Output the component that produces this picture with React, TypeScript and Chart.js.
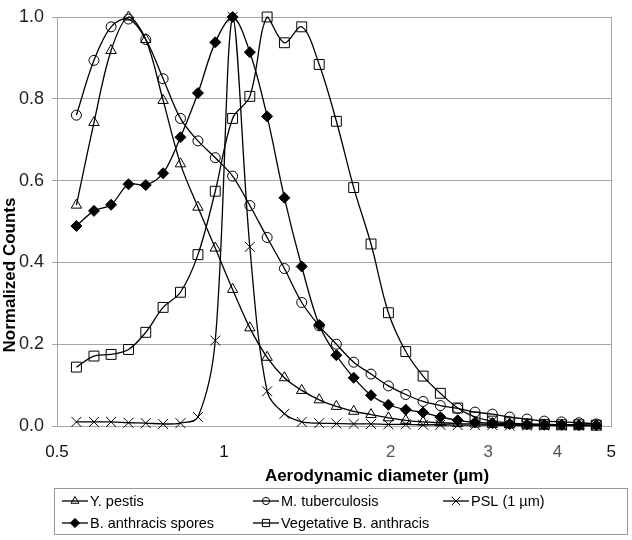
import React, { useEffect, useRef } from "react";
import { Chart, registerables } from "chart.js";

Chart.register(...registerables);

// Aerodynamic diameter (µm) of each measurement channel
const diameters = [
  0.542, 0.583, 0.626, 0.673, 0.723, 0.777, 0.835, 0.898, 0.965, 1.037, 1.114,
  1.197, 1.286, 1.382, 1.486, 1.596, 1.715, 1.843, 1.981, 2.129, 2.288, 2.458,
  2.642, 2.839, 3.051, 3.278, 3.523, 3.786, 4.068, 4.371, 4.698,
];

const yPestis = [
  0.54, 0.742, 0.918, 1.0, 0.945, 0.796, 0.641, 0.535, 0.435, 0.334, 0.24,
  0.168, 0.118, 0.087, 0.064, 0.048, 0.036, 0.028, 0.02, 0.014, 0.01, 0.008,
  0.006, 0.005, 0.004, 0.003, 0.003, 0.002, 0.002, 0.001, 0.001,
];

const mTuberculosis = [
  0.76, 0.894, 0.976, 0.995, 0.945, 0.849, 0.752, 0.697, 0.656, 0.611, 0.539,
  0.461, 0.385, 0.302, 0.245, 0.2, 0.156, 0.127, 0.098, 0.077, 0.06, 0.05,
  0.043, 0.034, 0.029, 0.022, 0.017, 0.012, 0.01, 0.008, 0.005,
];

const psl = [
  0.01, 0.01, 0.01, 0.008, 0.007, 0.005, 0.007, 0.022, 0.209, 1.0, 0.438,
  0.085, 0.03, 0.01, 0.007, 0.006, 0.005, 0.005, 0.004, 0.004, 0.003, 0.003,
  0.002, 0.002, 0.002, 0.001, 0.001, 0.001, 0.001, 0.001, 0.001,
];

const bAnthracisSpores = [
  0.489, 0.526, 0.541, 0.591, 0.589, 0.618, 0.706, 0.814, 0.938, 1.0, 0.914,
  0.757, 0.558, 0.39, 0.247, 0.173, 0.118, 0.075, 0.052, 0.04, 0.033, 0.022,
  0.014, 0.009, 0.007, 0.005, 0.004, 0.003, 0.003, 0.002, 0.002,
];

const vegetativeBAnthracis = [
  0.144, 0.171, 0.175, 0.187, 0.229, 0.29, 0.327, 0.419, 0.574, 0.752, 0.806,
  1.0, 0.937, 0.976, 0.884, 0.745, 0.583, 0.445, 0.277, 0.182, 0.122, 0.08,
  0.044, 0.022, 0.012, 0.008, 0.005, 0.004, 0.003, 0.003, 0.002,
];

const seriesNames = [
  "Y. pestis",
  "M. tuberculosis",
  "PSL (1 µm)",
  "B. anthracis spores",
  "Vegetative B. anthracis",
];

const xTickValues = [0.5, 1, 2, 3, 4, 5];
const xTickLabels = ["0.5", "1", "2", "3", "4", "5"];
const xTitle = "Aerodynamic diameter (µm)";
const yTitle = "Normalized Counts";

const FONT = "'Liberation Sans', Arial, Helvetica, sans-serif";
const GRID = "#a6a6a6";

type Style = "triangle" | "circle" | "crossRot" | "rectRot" | "rect";

const seriesValues = [yPestis, mTuberculosis, psl, bAnthracisSpores, vegetativeBAnthracis];
const seriesStyles: Style[] = ["triangle", "circle", "crossRot", "rectRot", "rect"];
const seriesRadius = [6, 5, 7, 5.5, 7];
const seriesFilled = [false, false, false, true, false];
// legend grid placement [column, row]
const legendSlots = [
  [0, 0],
  [1, 0],
  [2, 0],
  [0, 1],
  [1, 1],
];
const legendRadius = [4.5, 3.6, 4.2, 4.6, 3.6];

function drawMarker(
  ctx: CanvasRenderingContext2D,
  style: Style,
  x: number,
  y: number,
  r: number,
  filled: boolean
) {
  ctx.beginPath();
  switch (style) {
    case "circle":
      ctx.arc(x, y, r, 0, Math.PI * 2);
      break;
    case "triangle": {
      for (let k = 0; k < 3; k++) {
        const a = (k * 2 * Math.PI) / 3;
        const px = x + Math.sin(a) * r;
        const py = y - Math.cos(a) * r;
        if (k === 0) ctx.moveTo(px, py);
        else ctx.lineTo(px, py);
      }
      ctx.closePath();
      break;
    }
    case "rect":
      ctx.rect(x - r, y - r, 2 * r, 2 * r);
      break;
    case "rectRot":
      ctx.moveTo(x - r, y);
      ctx.lineTo(x, y - r);
      ctx.lineTo(x + r, y);
      ctx.lineTo(x, y + r);
      ctx.closePath();
      break;
    case "crossRot":
      ctx.moveTo(x - r, y - r);
      ctx.lineTo(x + r, y + r);
      ctx.moveTo(x - r, y + r);
      ctx.lineTo(x + r, y - r);
      break;
  }
  if (filled) {
    ctx.fillStyle = "#000";
    ctx.fill();
  }
  ctx.stroke();
}

const decorPlugin = {
  id: "decor",
  afterDraw(chart: any) {
    const ctx: CanvasRenderingContext2D = chart.ctx;
    const area = chart.chartArea;
    ctx.save();
    // right border of plot area
    ctx.strokeStyle = GRID;
    ctx.lineWidth = 1;
    ctx.beginPath();
    ctx.moveTo(Math.round(area.right) + 0.5, area.top);
    ctx.lineTo(Math.round(area.right) + 0.5, area.bottom);
    ctx.stroke();

    // axis titles
    ctx.fillStyle = "#000";
    ctx.font = `bold 17px ${FONT}`;
    ctx.textAlign = "center";
    ctx.textBaseline = "middle";
    ctx.fillText(xTitle, 377, 476);
    ctx.save();
    ctx.translate(10, 275);
    ctx.rotate(-Math.PI / 2);
    ctx.fillText(yTitle, 0, 0);
    ctx.restore();

    // legend box
    const bx = 54, by = 488, bw = 573, bh = 46;
    ctx.strokeStyle = "#999";
    ctx.lineWidth = 1;
    ctx.strokeRect(bx + 0.5, by + 0.5, bw, bh);
    const colX = [62, 253, 443];
    const rowY = [501, 523];
    ctx.font = `14.5px ${FONT}`;
    ctx.textAlign = "left";
    ctx.textBaseline = "middle";
    seriesNames.forEach((name, i) => {
      const [c, r] = legendSlots[i];
      const x0 = colX[c];
      const y0 = rowY[r];
      ctx.strokeStyle = "#000";
      ctx.lineWidth = 1.3;
      ctx.beginPath();
      ctx.moveTo(x0, y0);
      ctx.lineTo(x0 + 26, y0);
      ctx.stroke();
      ctx.lineWidth = 1;
      drawMarker(ctx, seriesStyles[i], x0 + 13, y0, legendRadius[i], seriesFilled[i]);
      ctx.fillStyle = "#000";
      ctx.fillText(name, x0 + 28, y0 + 1);
    });
    ctx.restore();
  },
};

export default function App() {
  const canvasRef = useRef<HTMLCanvasElement | null>(null);

  useEffect(() => {
    if (!canvasRef.current) return;
    const datasets = seriesNames.map((name, i) => ({
      label: name,
      data: diameters.map((d, k) => ({ x: d, y: seriesValues[i][k] })),
      borderColor: "#000",
      borderWidth: 1.3,
      pointStyle: seriesStyles[i],
      pointRadius: seriesRadius[i],
      pointBorderColor: "#000",
      pointBorderWidth: 1,
      pointBackgroundColor: seriesFilled[i] ? "#000" : "rgba(0,0,0,0)",
      tension: 0.35,
      fill: false,
      clip: false as const,
      order: seriesNames.length - i,
    }));

    const chart = new Chart(canvasRef.current, {
      type: "line",
      data: { datasets },
      options: {
        responsive: false,
        animation: false,
        devicePixelRatio: 1,
        layout: { padding: { top: 10, right: 20, left: 0, bottom: 0 } },
        plugins: {
          legend: { display: false },
          tooltip: { enabled: false },
        },
        scales: {
          x: {
            type: "logarithmic",
            min: 0.5,
            max: 5,
            grid: { display: false, drawTicks: false },
            border: { display: true, color: GRID, width: 1 },
            afterBuildTicks: (scale: any) => {
              scale.ticks = xTickValues.map((v) => ({ value: v }));
            },
            afterFit: (scale: any) => {
              scale.height = 114;
            },
            ticks: {
              autoSkip: false,
              maxRotation: 0,
              padding: 16,
              font: { family: FONT, size: 17, lineHeight: 1.2 },
              color: (c: any) =>
                c.tick && [2, 3, 4].includes(c.tick.value) ? "#555" : "#111",
              callback: (value: any) => {
                const idx = xTickValues.findIndex((v) => Math.abs(v - Number(value)) < 1e-9);
                return idx >= 0 ? xTickLabels[idx] : "";
              },
            },
          },
          y: {
            min: 0,
            max: 1,
            grid: { color: GRID, lineWidth: 1, drawTicks: true, tickLength: 5 },
            border: { display: true, color: GRID, width: 1 },
            afterFit: (scale: any) => {
              scale.width = 57;
            },
            ticks: {
              stepSize: 0.2,
              padding: 8,
              font: { family: FONT, size: 18, lineHeight: 1 },
              color: "#222",
              callback: (value: any) => Number(value).toFixed(1),
            },
          },
        },
      },
      plugins: [decorPlugin],
    } as any);

    return () => {
      chart.destroy();
    };
  }, []);

  return (
    <div style={{ position: "absolute", left: 0, top: 0, width: 632, height: 540, background: "#fff" }}>
      <canvas ref={canvasRef} width={632} height={540} style={{ display: "block" }} />
    </div>
  );
}
